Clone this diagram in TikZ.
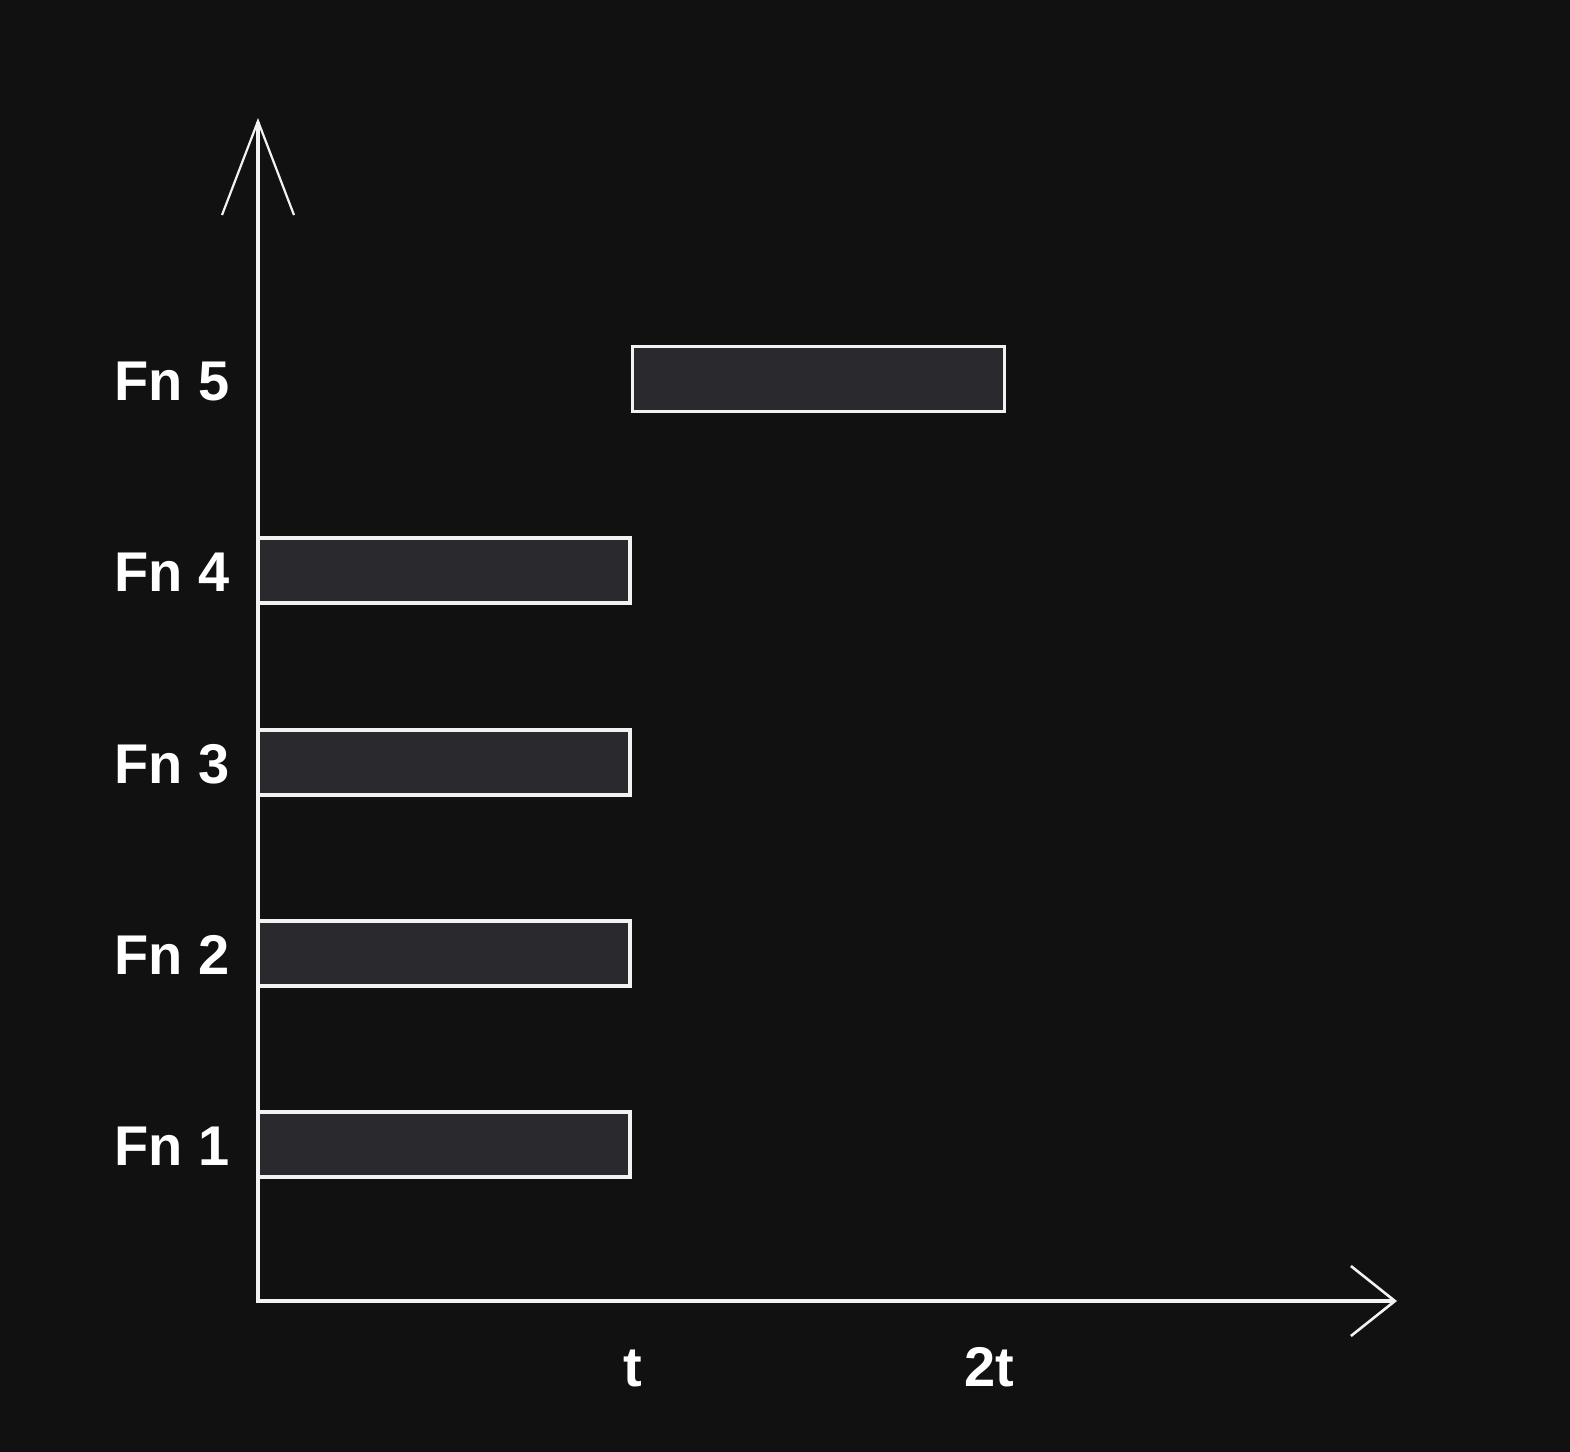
\documentclass[tikz,border=0pt]{standalone}
\usepackage{fontspec}
\setmainfont{Liberation Sans}
\usetikzlibrary{arrows.meta}
\definecolor{bgc}{HTML}{111112}
\definecolor{boxc}{HTML}{2A2A2E}
\definecolor{linec}{HTML}{F2F2F2}
\tikzset{
  fnbox/.style={draw=linec, fill=boxc, line width=1.6pt, minimum width=186pt, minimum height=32.5pt, inner sep=0pt},
  fnlabel/.style={text=white, font=\fontsize{28}{30}\selectfont\bfseries, inner sep=0pt, anchor=base east},
  ticklabel/.style={text=white, font=\fontsize{28}{30}\selectfont\bfseries, inner sep=0pt, anchor=base},
  axis/.style={draw=linec, line width=1.6pt}
}
\begin{document}
\begin{tikzpicture}[x=0.5pt, y=-0.5pt]
\fill[bgc] (0,0) rectangle (1570,1452);
\useasboundingbox (0,0) rectangle (1570,1452);
\coordinate (ytop) at (258,118);
\coordinate (orig) at (258,1301);
\coordinate (xend) at (1397,1301);
\draw[axis, arrows={Straight Barb[length=47pt,width=36pt,line width=1.1pt]-Straight Barb[length=22pt,width=35pt,line width=1.3pt]}] (ytop) -- (orig) -- (xend);

\node[fnbox] (b1) at (444,1144.5) {};
\node[fnbox] (b2) at (444,953.5) {};
\node[fnbox] (b3) at (444,762.5) {};
\node[fnbox] (b4) at (444,570.5) {};
\node[fnbox] (b5) at (818.5,379) {};

\node[fnlabel] (l1) at (230,1165.5) {Fn 1};
\node[fnlabel] (l2) at (230,974.5) {Fn 2};
\node[fnlabel] (l3) at (230,783.5) {Fn 3};
\node[fnlabel] (l4) at (230,591.5) {Fn 4};
\node[fnlabel] (l5) at (230,400) {Fn 5};

\node[ticklabel] (t1) at (633,1386) {t};
\node[ticklabel] (t2) at (989,1386) {2t};
\end{tikzpicture}
\end{document}
